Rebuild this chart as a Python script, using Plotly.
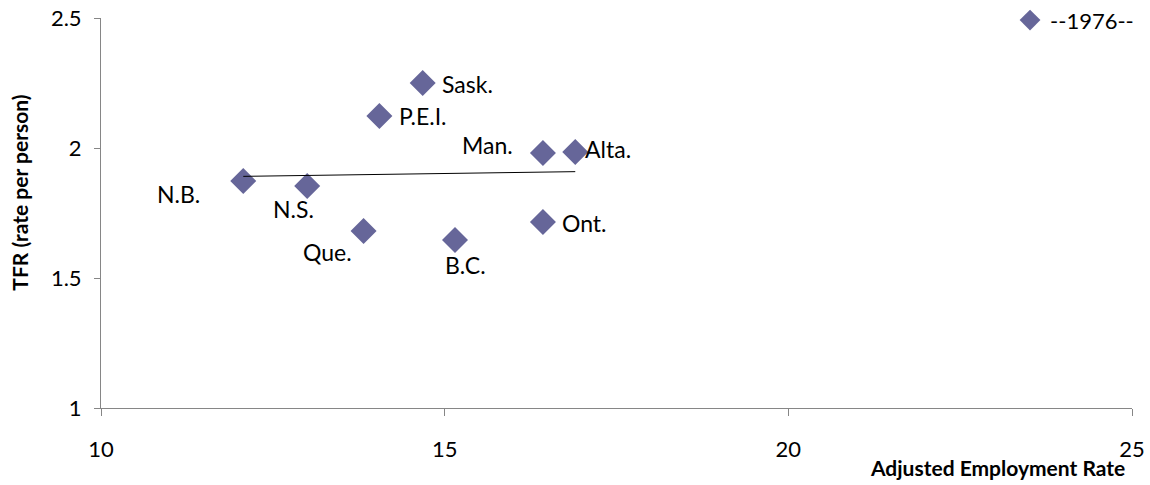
import numpy as np
import plotly.graph_objects as go

provinces = ["N.B.", "N.S.", "Que.", "P.E.I.", "Sask.", "B.C.", "Man.", "Ont.", "Alta."]
employment = [12.07, 13.0, 13.82, 14.05, 14.68, 15.15, 16.43, 16.43, 16.9]
tfr = [1.873, 1.854, 1.681, 2.123, 2.25, 1.646, 1.981, 1.715, 1.985]
series_name = "--1976--"
x_ticks = [10, 15, 20, 25]
y_ticks = [1, 1.5, 2, 2.5]

# label placement (pixel offsets, anchor)
label_style = {
    "N.B.": (-65, -13, "center"),
    "N.S.": (-14, -23, "center"),
    "Que.": (-36, -21, "center"),
    "P.E.I.": (18, 0, "left"),
    "Sask.": (17, -1, "left"),
    "B.C.": (11, -25, "center"),
    "Man.": (-28, 8, "right"),
    "Alta.": (8, 3, "left"),
    "Ont.": (17, -1, "left"),
}

FONT = "Lato, 'Open Sans', sans-serif"
MARK = "#666699"

fig = go.Figure()
fig.add_trace(go.Scatter(
    x=employment, y=tfr, mode="markers", name=series_name,
    marker=dict(symbol="diamond", size=20, color=MARK, line=dict(width=0)),
))

coef = np.polyfit(employment, tfr, 1)
xl = np.array([min(employment), max(employment)])
fig.add_trace(go.Scatter(
    x=xl, y=np.polyval(coef, xl), mode="lines", showlegend=False,
    line=dict(color="black", width=1),
))

for p, xv, yv in zip(provinces, employment, tfr):
    dx, dy, anc = label_style[p]
    fig.add_annotation(x=xv, y=yv, xref="x", yref="y", text=p, showarrow=False,
                       xshift=dx, yshift=dy, xanchor=anc, yanchor="middle",
                       font=dict(family=FONT, size=23, color="black"))

fig.add_annotation(xref="paper", yref="paper", x=0.995, y=-0.152, xanchor="right", yanchor="middle",
                   text="<b>Adjusted Employment Rate</b>", showarrow=False,
                   font=dict(family=FONT, size=21, color="black"))
fig.add_annotation(xref="paper", yref="paper", x=-0.079, y=0.551, xanchor="center", yanchor="middle",
                   text="<b>TFR (rate per person)</b>", showarrow=False, textangle=-90,
                   font=dict(family=FONT, size=21, color="black"))

fig.update_layout(
    width=1150, height=485,
    margin=dict(l=101, r=18, t=18, b=77, autoexpand=False),
    plot_bgcolor="white", paper_bgcolor="white",
    font=dict(family=FONT, size=22, color="black"),
    showlegend=True,
    legend=dict(x=0.8817, y=1.048, xanchor="left", yanchor="top",
                font=dict(family=FONT, size=22, color="black"),
                bgcolor="rgba(0,0,0,0)", itemwidth=30),
    xaxis=dict(range=[10, 25], tickvals=x_ticks, ticks="outside", ticklen=7, tickcolor="#868686",
               showline=True, linecolor="#868686", linewidth=1, showgrid=False, zeroline=False,
               ticklabelstandoff=15, automargin=False, ticklabeloverflow="allow"),
    yaxis=dict(range=[1, 2.5], tickvals=y_ticks, ticks="outside", ticklen=6, tickcolor="#868686",
               showline=True, linecolor="#868686", linewidth=1, showgrid=False, zeroline=False,
               ticklabelstandoff=8, automargin=False, ticklabeloverflow="allow"),
)

fig.write_html("out.html", config={"displayModeBar": False},
               post_script="document.body.style.margin='0';")
